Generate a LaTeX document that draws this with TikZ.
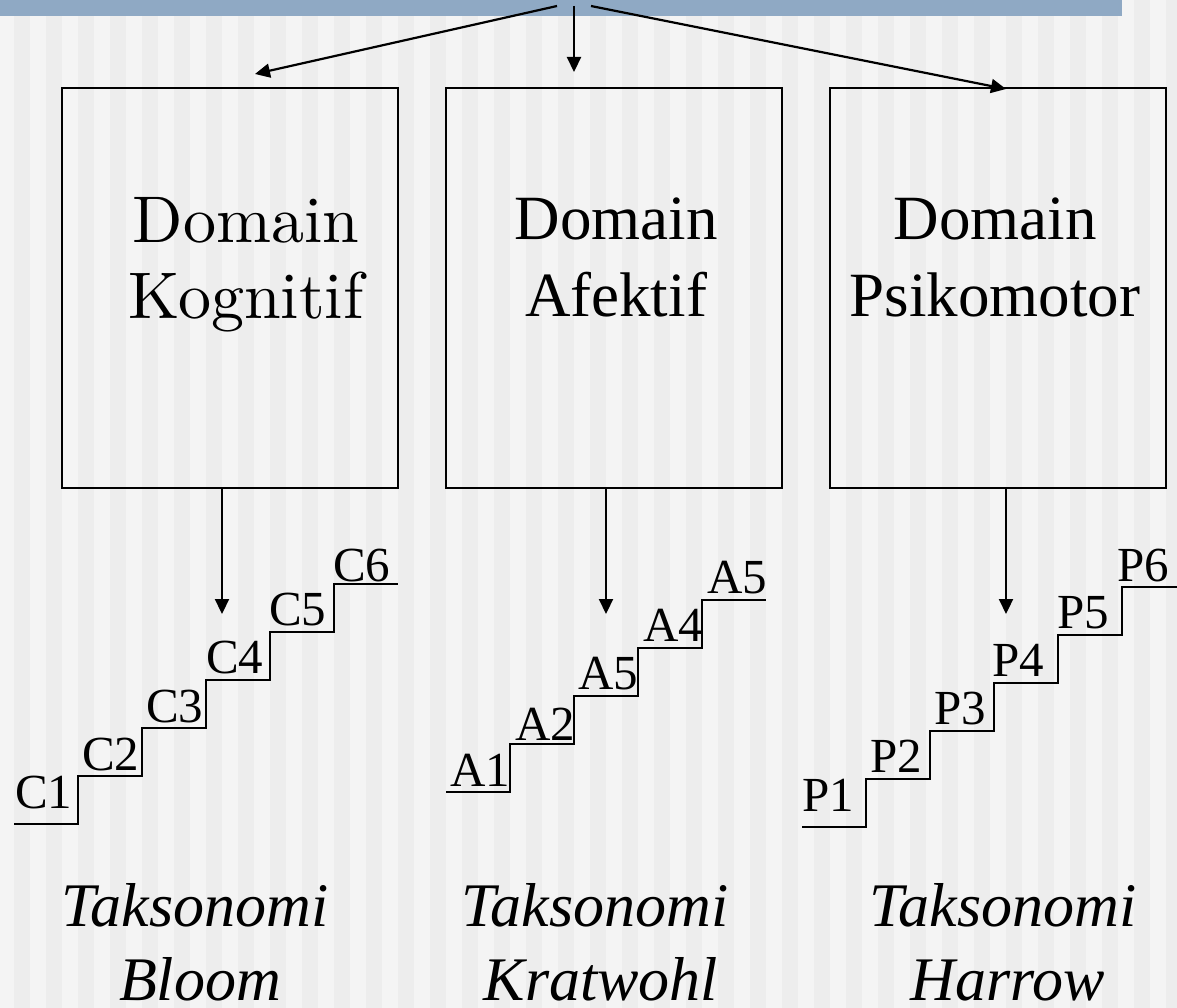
\documentclass[tikz,border=0pt]{standalone}
\usepackage{fontspec}
\newfontfamily\tnr{Liberation Serif}
\newfontfamily\kogfont{lmroman10-regular.otf}
\usetikzlibrary{arrows.meta}
\definecolor{bgA}{HTML}{F4F4F4}
\definecolor{bgB}{HTML}{EDEDED}
\definecolor{barc}{HTML}{8FA9C4}
\begin{document}
\begin{tikzpicture}[x=1pt,y=-1pt,
  box/.style={draw=black, line width=2.2pt, minimum width=336pt, minimum height=400pt, inner sep=0pt},
  kog/.style={font=\kogfont\fontsize{66}{76}\selectfont, inner sep=0pt, anchor=base},
  dom/.style={font=\tnr\fontsize{63}{76}\selectfont, inner sep=0pt, anchor=base},
  tak/.style={font=\tnr\itshape\fontsize{62}{76}\selectfont, inner sep=0pt, anchor=base},
  lab/.style={font=\tnr\fontsize{49}{55}\selectfont, inner sep=0pt, anchor=base west},
  arr/.style={line width=2.2pt, -{Triangle[length=15pt,width=14pt]}},
  stair/.style={line width=2pt, line cap=butt, line join=miter}]
\useasboundingbox (0,0) rectangle (1177,1008);
% background
\fill[bgA] (0,0) rectangle (1177,1008);
\foreach \i in {0,...,35} \fill[bgB] ({14+32*\i},0) rectangle ({30+32*\i},1008);
\fill[bgB] (1166,0) rectangle (1177,1008);
\fill[barc] (0,0) rectangle (1122,16);
% boxes
\node[box] (b1) at (230,288) {};
\node[box] (b2) at (614,288) {};
\node[box] (b3) at (998,288) {};
% box texts
\node[kog] (k1) at (246,243) {Domain};
\node[kog] (k2) at (246,318) {Kognitif};
\node[dom] (a1) at (616,240) {Domain};
\node[dom] (a2) at (616,316) {Afektif};
\node[dom] (p1) at (995,240) {Domain};
\node[dom] (p2) at (995,316) {Psikomotor};
% top arrows
\coordinate (s1) at (557,6);
\coordinate (s2) at (574,6);
\coordinate (s3) at (591,6);
\coordinate (e1) at (255,74);
\coordinate (e2) at (574,72);
\coordinate (e3) at (1006,89);
\draw[arr] (s1) -- (e1);
\draw[arr] (s2) -- (e2);
\draw[arr] (s3) -- (e3);
% down arrows
\coordinate (t1) at (222,614);
\coordinate (t2) at (606,614);
\coordinate (t3) at (1006,614);
\draw[arr] (b1.south -| t1) -- (t1);
\draw[arr] (b2.south -| t2) -- (t2);
\draw[arr] (b3.south -| t3) -- (t3);
% stairs
\draw[stair] (14,824) -| (78,776) -| (142,728) -| (206,680) -| (270,632) -| (334,584) -- (398,584);
\draw[stair] (446,792) -| (510,744) -| (574,696) -| (638,648) -| (702,600) -- (766,600);
\draw[stair] (802,827) -| (866,779) -| (930,731) -| (994,683) -| (1058,635) -| (1122,587) -- (1177,587);
% stair labels
\node[lab] (c1) at (15,808) {C1};
\node[lab] (c2) at (82,770) {C2};
\node[lab] (c3) at (146,722) {C3};
\node[lab] (c4) at (206,673) {C4};
\node[lab] (c5) at (269,625) {C5};
\node[lab] (c6) at (333,581) {C6};
\node[lab] (l1) at (450,786) {A1};
\node[lab] (l2) at (515,740) {A2};
\node[lab] (l3) at (578,689) {A5};
\node[lab] (l4) at (643,641) {A4};
\node[lab] (l5) at (707,593) {A5};
\node[lab] (q1) at (802,811) {P1};
\node[lab] (q2) at (870,772) {P2};
\node[lab] (q3) at (934,724) {P3};
\node[lab] (q4) at (992,676) {P4};
\node[lab] (q5) at (1057,628) {P5};
\node[lab] (q6) at (1117,581) {P6};
% bottom titles
\node[tak] (x1) at (195,926) {Taksonomi};
\node[tak, text depth=0pt] (x2) at (200,1000) {Bloom};
\node[tak] (y1) at (595,926) {Taksonomi};
\node[tak, text depth=0pt] (y2) at (601,1000) {Kratwohl};
\node[tak] (z1) at (1003,926) {Taksonomi};
\node[tak, text depth=0pt] (z2) at (1008,1000) {Harrow};
\end{tikzpicture}
\end{document}
